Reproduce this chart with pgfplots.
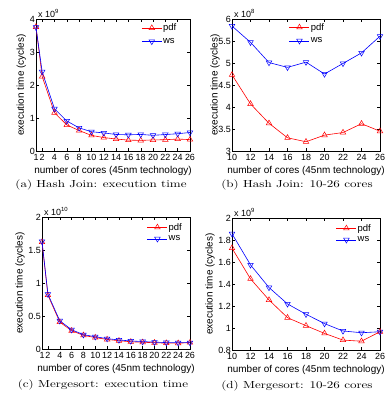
\documentclass[border=0pt]{standalone}
\usepackage{fontspec}
\usepackage{graphicx}
\usepackage{pgfplots}
\pgfplotsset{compat=1.18}
\newfontfamily\arial{Liberation Sans}

\pgfplotsset{
 mystyle/.style={
  scale only axis, anchor=north west, clip=false,
  tick align=inside, major tick length=3bp,
  every tick/.style={black, line width=0.4bp},
  axis line style={line width=0.5bp},
  /pgf/number format/assume math mode=true,
  ticklabel style={font=\arial\fontsize{9}{10}\selectfont},
  yticklabel style={inner sep=1bp, text height=6.5bp, text depth=0bp},
  xticklabel style={inner sep=1bp, yshift=-1.5bp, text height=6.5bp, text depth=0bp},
  label style={font=\arial\fontsize{10}{11}\selectfont},
  xlabel style={at={(axis description cs:0.5,-0.152)}, anchor=center},
  legend style={draw=none, fill=none, font=\arial\fontsize{9.5}{10}\selectfont, inner sep=1bp, row sep=3bp, nodes={inner sep=1bp}},
  legend cell align=left,
  legend image code/.code={\draw[mark repeat=2,mark phase=2,##1] plot coordinates {(0bp,0bp) (10bp,0bp) (20bp,0bp)};},
  xlabel={number of cores (45nm technology)},
  ylabel={execution time (cycles)},
 },
 pdfstyle/.style={red, line width=0.6bp, mark=triangle, mark size=3.2bp, mark options={solid, fill=none, line width=0.5bp}},
 wsstyle/.style={blue, line width=0.6bp, mark=triangle, mark size=3.2bp, mark options={solid, fill=none, rotate=180, line width=0.5bp}},
}
\newcommand{\expo}[1]{\node[anchor=south west, font=\arial\fontsize{9}{10}\selectfont, inner sep=0.5bp, xshift=1.5bp, yshift=1bp] at (rel axis cs:0,1) {x 10\textsuperscript{#1}};}
\newcommand{\capt}[1]{\fontsize{10.3}{12}\selectfont\scalebox{1.27}[1]{#1}}

\begin{document}
\begin{tikzpicture}
\useasboundingbox (0,0) rectangle (387bp,-399bp);

% (a)
\begin{axis}[mystyle, at={(36bp,-19bp)}, width=154bp, height=132bp,
  xmin=1, xmax=26, ymin=0, ymax=4,
  xtick={1,2,4,6,8,10,12,14,16,18,20,22,24,26},
  ytick={0,1,2,3,4},
  ylabel style={at={(axis description cs:-0.095,0.5)}, anchor=center},
  legend style={at={(0.925,0.98)}, anchor=north east, row sep=4bp}]
\addplot[pdfstyle] coordinates {(1,3.76) (2,2.26) (4,1.16) (6,0.79) (8,0.62) (10,0.473) (12,0.407) (14,0.363) (16,0.330) (18,0.321) (20,0.336) (22,0.342) (24,0.362) (26,0.345)};
\addplot[wsstyle] coordinates {(1,3.75) (2,2.40) (4,1.28) (6,0.91) (8,0.70) (10,0.584) (12,0.547) (14,0.501) (16,0.490) (18,0.502) (20,0.475) (22,0.499) (24,0.523) (26,0.561)};
\legend{pdf,ws}
\expo{9}
\end{axis}

% (b)
\begin{axis}[mystyle, at={(232bp,-19bp)}, width=148bp, height=132bp,
  xmin=10, xmax=26, ymin=3, ymax=6,
  xtick={10,12,...,26},
  ytick={3,3.5,4,4.5,5,5.5,6},
  ylabel style={at={(axis description cs:-0.115,0.5)}, anchor=center},
  legend style={at={(0.507,0.985)}, anchor=north, row sep=4bp}]
\addplot[pdfstyle] coordinates {(10,4.73) (12,4.07) (14,3.63) (16,3.30) (18,3.21) (20,3.36) (22,3.42) (24,3.62) (26,3.45)};
\addplot[wsstyle] coordinates {(10,5.84) (12,5.47) (14,5.01) (16,4.90) (18,5.02) (20,4.75) (22,4.99) (24,5.23) (26,5.61)};
\legend{pdf,ws}
\expo{8}
\end{axis}

% (c)
\begin{axis}[mystyle, at={(42bp,-217bp)}, width=148bp, height=132bp,
  xmin=1, xmax=26, ymin=0, ymax=2,
  xtick={1,2,4,6,8,10,12,14,16,18,20,22,24,26},
  ytick={0,0.5,1,1.5,2},
  ylabel style={at={(axis description cs:-0.149,0.5)}, anchor=center},
  legend style={at={(0.96,0.97)}, anchor=north east, row sep=2bp}]
\addplot[pdfstyle] coordinates {(1,1.62) (2,0.816) (4,0.408) (6,0.277) (8,0.207) (10,0.1726) (12,0.1447) (14,0.1255) (16,0.1094) (18,0.1021) (20,0.0951) (22,0.089) (24,0.088) (26,0.0966)};
\addplot[wsstyle] coordinates {(1,1.63) (2,0.831) (4,0.428) (6,0.292) (8,0.217) (10,0.1857) (12,0.1574) (14,0.1368) (16,0.1219) (18,0.1125) (20,0.104) (22,0.0973) (24,0.0957) (26,0.0966)};
\legend{pdf,ws}
\expo{10}
\end{axis}

% (d)
\begin{axis}[mystyle, at={(232bp,-218bp)}, width=148bp, height=132bp,
  xmin=10, xmax=26, ymin=0.8, ymax=2,
  xtick={10,12,...,26},
  ytick={0.8,1,1.2,1.4,1.6,1.8,2},
  ylabel style={at={(axis description cs:-0.149,0.5)}, anchor=center},
  legend style={at={(0.953,0.97)}, anchor=north east, row sep=2bp}]
\addplot[pdfstyle] coordinates {(10,1.726) (12,1.447) (14,1.255) (16,1.094) (18,1.021) (20,0.951) (22,0.890) (24,0.880) (26,0.966)};
\addplot[wsstyle] coordinates {(10,1.857) (12,1.574) (14,1.368) (16,1.219) (18,1.125) (20,1.040) (22,0.973) (24,0.957) (26,0.966)};
\legend{pdf,ws}
\expo{9}
\end{axis}

\node at (101bp,-185bp) {\capt{(a) Hash Join: execution time}};
\node at (297bp,-185bp) {\capt{(b) Hash Join: 10-26 cores}};
\node at (103bp,-385bp) {\capt{(c) Mergesort: execution time}};
\node at (297bp,-386bp) {\capt{(d) Mergesort: 10-26 cores}};
\end{tikzpicture}
\end{document}
